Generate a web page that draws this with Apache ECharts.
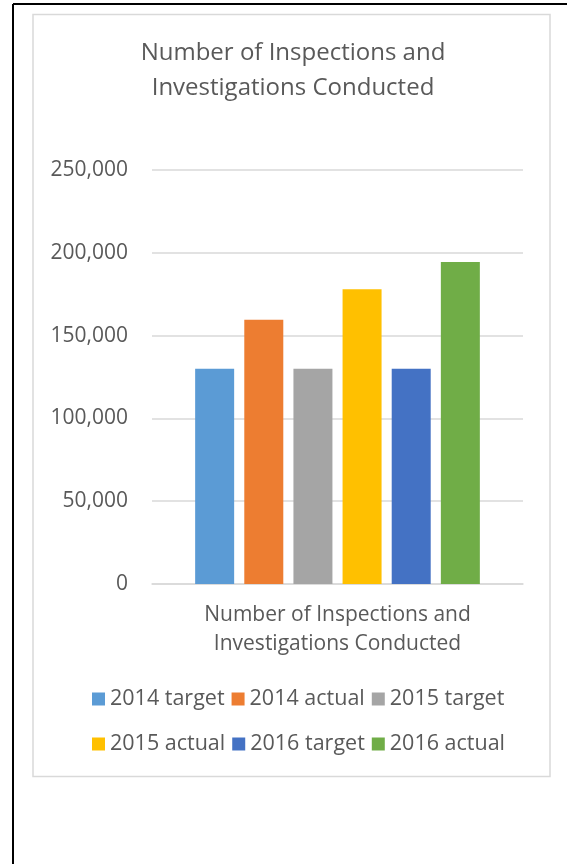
<!DOCTYPE html>
<html>
<head>
<meta charset="utf-8">
<script src="https://cdn.jsdelivr.net/npm/echarts@6/dist/echarts.min.js"></script>
<style>
html,body{margin:0;padding:0;background:#fff;}
#chart{width:567px;height:864px;}
</style>
</head>
<body>
<div id="chart"></div>
<script>
const categories = ['Number of Inspections and\nInvestigations Conducted'];
const seriesNames = ['2014 target', '2014 actual', '2015 target', '2015 actual', '2016 target', '2016 actual'];
const seriesValues = [130000, 159500, 130000, 178000, 130000, 194500];
const seriesColors = ['#5B9BD5', '#ED7D31', '#A5A5A5', '#FFC000', '#4472C4', '#70AD47'];
const yTicks = [0, 50000, 100000, 150000, 200000, 250000];

const FONT = 'Open Sans';
const TXT = '#595959';

const chart = echarts.init(document.getElementById('chart'), null, {renderer: 'canvas'});
const series = seriesNames.map((name, i) => ({
  name: name,
  type: 'bar',
  data: [seriesValues[i]],
  barWidth: 39,
  barGap: '26%',
  itemStyle: {color: seriesColors[i]}
}));

chart.setOption({
  animation: false,
  textStyle: {fontFamily: FONT},
  title: {
    text: 'Number of Inspections and\nInvestigations Conducted',
    left: 293,
    top: 36,
    padding: 0,
    textAlign: 'center',
    textStyle: {fontFamily: FONT, fontSize: 24, fontWeight: 'normal', color: TXT, lineHeight: 35}
  },
  graphic: [
    {type: 'line', shape: {x1: 13, y1: 4, x2: 567, y2: 4}, style: {stroke: '#000', lineWidth: 2}, silent: true},
    {type: 'line', shape: {x1: 13, y1: 4, x2: 13, y2: 864}, style: {stroke: '#000', lineWidth: 2}, silent: true},
    {type: 'rect', shape: {x: 33, y: 14.5, width: 517, height: 762}, style: {fill: 'none', stroke: '#d9d9d9', lineWidth: 1.5}, silent: true, z: -1}
  ],
  legend: [
    {
      data: seriesNames.slice(0, 3),
      left: 92, top: 687, padding: 0,
      itemWidth: 13, itemHeight: 13, itemGap: 7,
      icon: 'rect',
      textStyle: {fontFamily: FONT, fontSize: 21.5, color: TXT, lineHeight: 24}
    },
    {
      data: seriesNames.slice(3),
      left: 92, top: 732, padding: 0,
      itemWidth: 13, itemHeight: 13, itemGap: 7,
      icon: 'rect',
      textStyle: {fontFamily: FONT, fontSize: 21.5, color: TXT, lineHeight: 24}
    }
  ],
  grid: {left: 152, right: 44, top: 170, bottom: 280, containLabel: false},
  xAxis: {
    type: 'category',
    data: categories,
    axisLine: {show: true, lineStyle: {color: '#d9d9d9', width: 1.5}},
    axisTick: {show: false},
    axisLabel: {fontFamily: FONT, fontSize: 21, color: TXT, lineHeight: 29, margin: 17}
  },
  yAxis: {
    type: 'value',
    min: yTicks[0],
    max: yTicks[yTicks.length - 1],
    interval: yTicks[1] - yTicks[0],
    axisLine: {show: false},
    axisTick: {show: false},
    splitLine: {lineStyle: {color: '#d9d9d9', width: 1.5}},
    axisLabel: {
      fontFamily: FONT, fontSize: 21, color: TXT, margin: 24,
      formatter: v => v.toLocaleString('en-US')
    }
  },
  series: series
});
</script>
</body>
</html>
